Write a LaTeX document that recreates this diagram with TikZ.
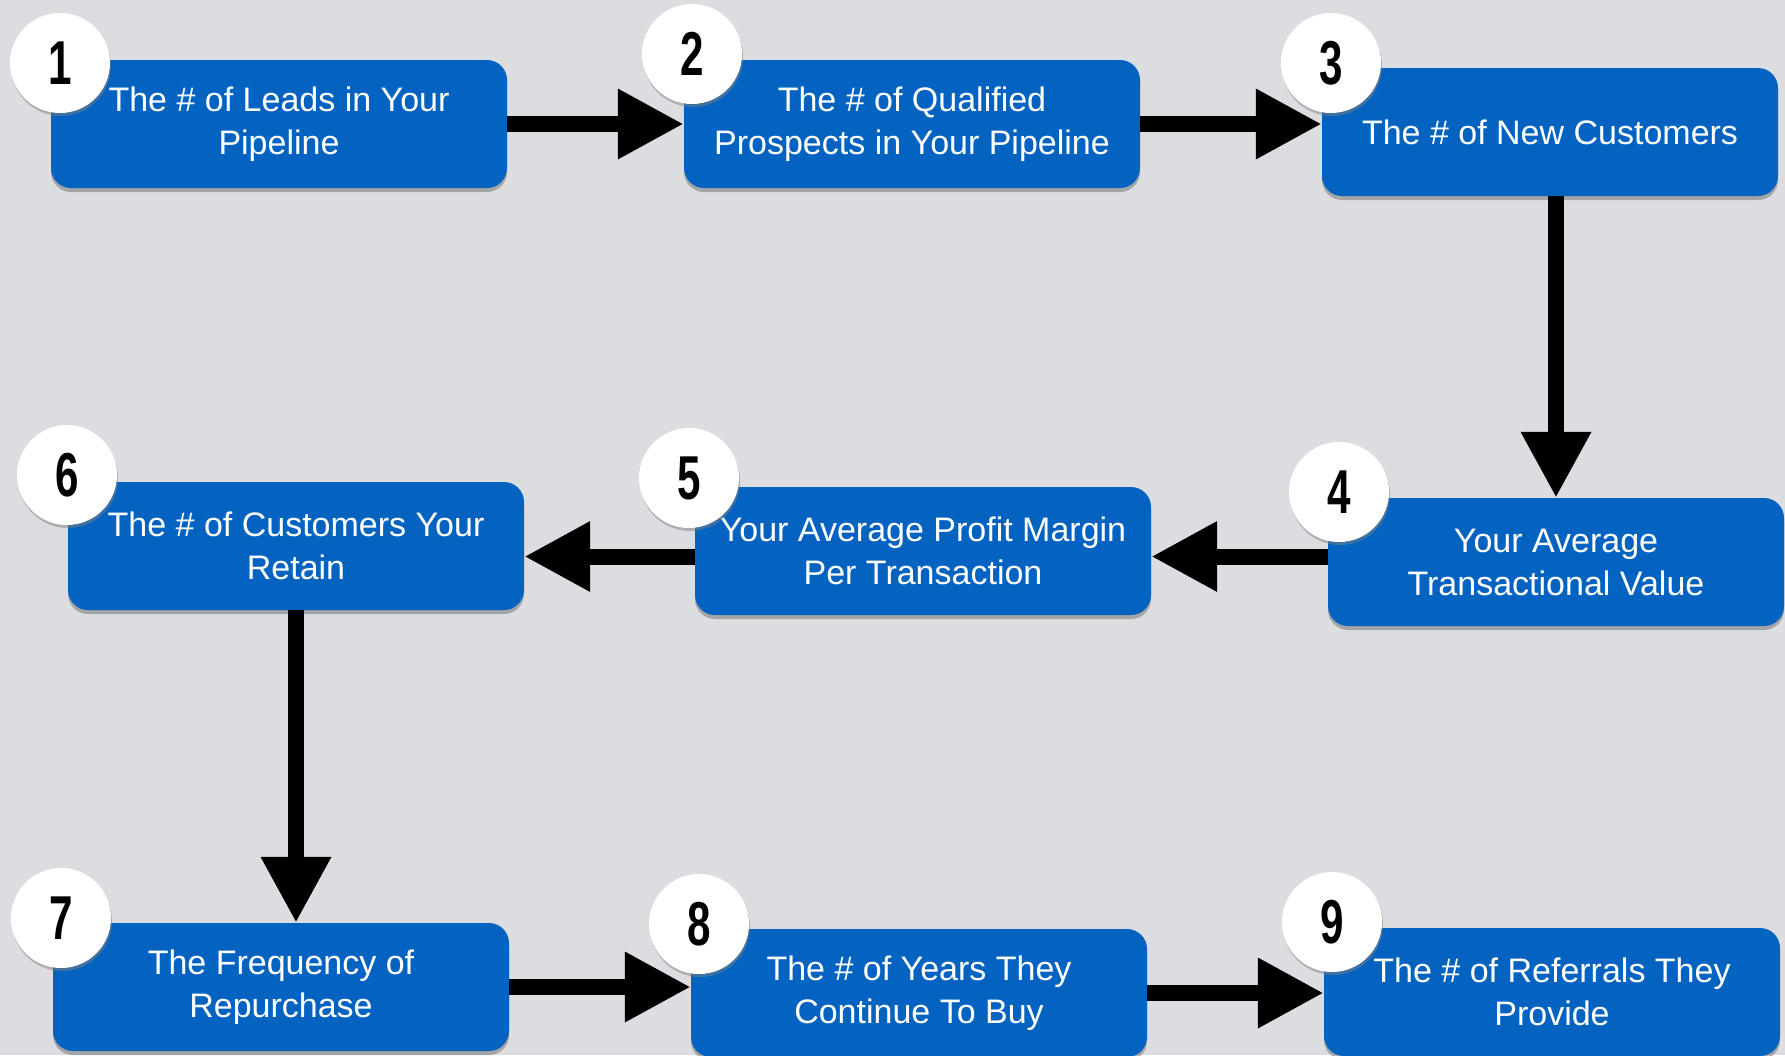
\documentclass[tikz,border=0pt]{standalone}
\usepackage{fontspec}
\setmainfont{Liberation Sans}
\usetikzlibrary{arrows.meta,shadows,calc}
\definecolor{bgc}{RGB}{220,221,225}
\definecolor{boxblue}{RGB}{4,99,193}
\newcommand\numtxt[1]{\scalebox{0.68}[1]{\bfseries #1}}
\begin{document}
\begin{tikzpicture}[x=1pt,y=-1pt,
  stepbox/.style={fill=boxblue, rounded corners=20pt, minimum width=456pt, minimum height=128pt,
    inner sep=0pt, text=white, align=center, font=\fontsize{34}{43}\selectfont,
    drop shadow={shadow xshift=0pt, shadow yshift=-4pt, opacity=0.6}},
  numc/.style={circle, fill=white, minimum size=100pt, inner sep=0pt,
    font=\fontsize{62}{62}\selectfont,
    drop shadow={shadow xshift=1pt, shadow yshift=-3pt, opacity=0.5}},
  arr/.style={line width=16pt, -{Triangle[length=66pt,width=66pt]}}]
\fill[bgc] (0,0) rectangle (1785,1055);
\useasboundingbox (0,0) rectangle (1785,1055);

\node[stepbox] (b1) at (279,124) {The \# of Leads in Your\\Pipeline};
\node[stepbox] (b2) at (912,124) {The \# of Qualified\\Prospects in Your Pipeline};
\node[stepbox] (b3) at (1550,132) {The \# of New Customers};
\node[stepbox] (b4) at (1556,562) {Your Average\\Transactional Value};
\node[stepbox] (b5) at (923,551) {Your Average Profit Margin\\Per Transaction};
\node[stepbox] (b6) at (296,546) {The \# of Customers Your\\Retain};
\node[stepbox] (b7) at (281,987) {The Frequency of\\Repurchase};
\node[stepbox] (b8) at (919,993) {The \# of Years They\\Continue To Buy};
\node[stepbox] (b9) at (1552,992) {The \# of Referrals They\\Provide};

\coordinate (m45) at ($(b4.center)!0.5!(b5.center)$);

\draw[arr] (b1.east) -- (b1.east -| b2.west);
\draw[arr] (b2.east) -- (b2.east -| b3.west);
\draw[arr] (b3.south -| b4.north) -- (b4.north);
\draw[arr] (m45 -| b4.west) -- (m45 -| b5.east);
\draw[arr] (m45 -| b5.west) -- (m45 -| b6.east);
\draw[arr] (b6.south) -- (b6.south |- b7.north);
\draw[arr] (b7.east) -- (b7.east -| b8.west);
\draw[arr] (b8.east) -- (b8.east -| b9.west);

\node[numc] (n1) at (60,63) {\numtxt{1}};
\node[numc] (n2) at (692,54) {\numtxt{2}};
\node[numc] (n3) at (1331,63) {\numtxt{3}};
\node[numc] (n4) at (1339,492) {\numtxt{4}};
\node[numc] (n5) at (689,478) {\numtxt{5}};
\node[numc] (n6) at (67,475) {\numtxt{6}};
\node[numc] (n7) at (61,918) {\numtxt{7}};
\node[numc] (n8) at (699,924) {\numtxt{8}};
\node[numc] (n9) at (1332,922) {\numtxt{9}};
\end{tikzpicture}
\end{document}
